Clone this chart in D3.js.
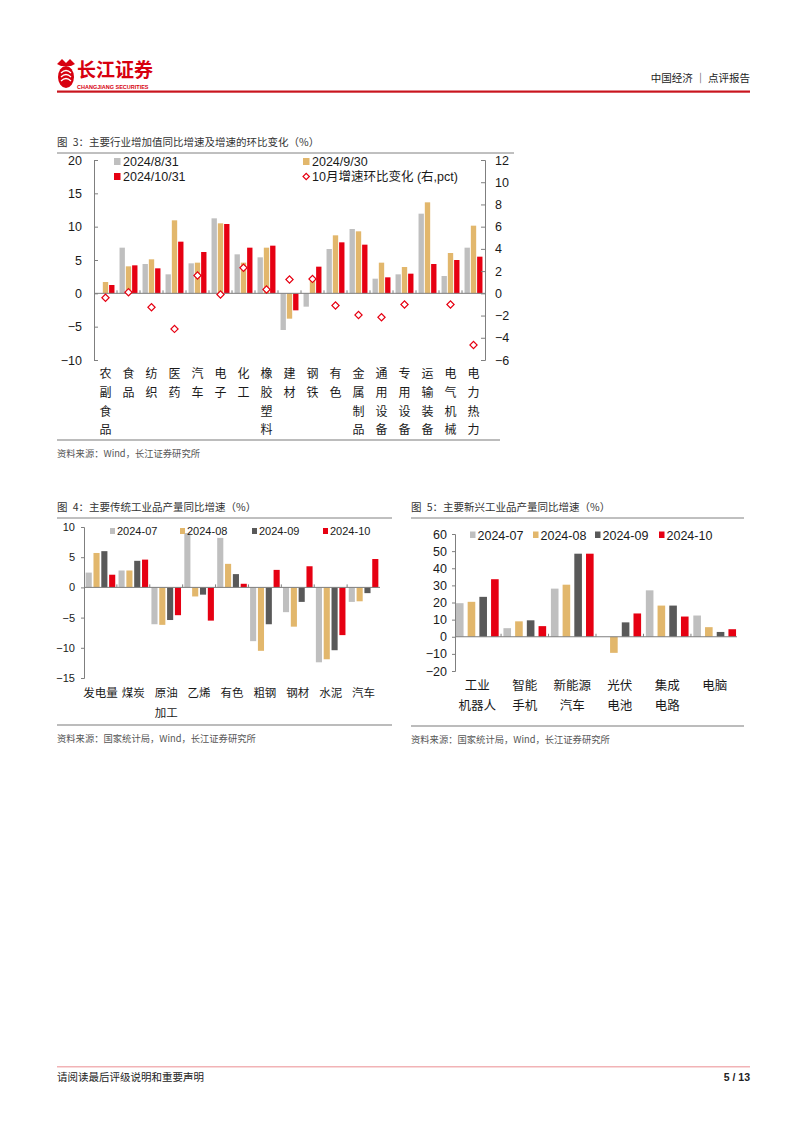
<!DOCTYPE html>
<html><head><meta charset="utf-8">
<script src="https://cdn.jsdelivr.net/npm/d3@7"></script>
<style>
html,body{margin:0;padding:0;background:#fff;}
svg{display:block;}
text{font-family:"Liberation Sans",Arial,"Noto Sans CJK SC",sans-serif;}
.cjk{font-family:"Noto Sans CJK SC","Liberation Sans",sans-serif;}
</style>
</head><body>
<script>
// ---------- DATA ----------
const cats3 = ["农副食品","食品","纺织","医药","汽车","电子","化工","橡胶塑料","建材","钢铁","有色","金属制品","通用设备","专用设备","运输装备","电气机械","电力热力"];
const ser3Names = ["2024/8/31","2024/9/30","2024/10/31"];
const aug31 = [null,6.85,4.4,2.85,4.5,11.25,5.85,5.4,-5.5,-2.0,6.65,9.65,2.2,2.85,11.95,2.6,6.85];
const sep30 = [1.7,4.05,5.1,10.95,4.6,10.5,4.6,6.85,-3.8,2.4,8.7,9.3,4.6,3.95,13.65,6.05,10.15];
const oct31 = [1.25,4.2,3.75,7.75,6.2,10.4,6.85,7.15,-2.55,4.0,7.65,7.3,2.4,2.95,4.4,5.0,5.5];
const momChg = [-0.4,0.1,-1.25,-3.2,1.6,-0.1,2.3,0.35,1.25,1.3,-1.1,-1.95,-2.15,-1.0,-9.25,-1.0,-4.65];
const momName = "10月增速环比变化 (右,pct)";
const ticks3L = [-10,-5,0,5,10,15,20];
const ticks3R = [-6,-4,-2,0,2,4,6,8,10,12];

const cats4 = ["发电量","煤炭","原油\n加工","乙烯","有色","粗钢","钢材","水泥","汽车"];
const monthNames = ["2024-07","2024-08","2024-09","2024-10"];
const jul4 = [2.45,2.8,-6.1,9.0,8.2,-8.9,-4.1,-12.4,-2.4];
const aug4 = [5.7,2.8,-6.2,-1.5,3.9,-10.5,-6.5,-11.9,-2.3];
const sep4 = [6.0,4.4,-5.4,-1.2,2.2,-6.1,-2.4,-10.4,-0.95];
const oct4 = [2.1,4.6,-4.6,-5.5,0.6,2.9,3.5,-7.9,4.7];
const ticks4 = [-15,-10,-5,0,5,10];

const cats5 = ["工业\n机器人","智能\n手机","新能源\n汽车","光伏\n电池","集成\n电路","电脑"];
const jul5 = [19.6,5.0,28.1,null,27.1,12.4];
const aug5 = [20.4,9.0,30.4,-9.4,18.2,5.6];
const sep5 = [23.3,9.6,48.5,8.4,18.2,2.8];
const oct5 = [33.6,6.2,48.5,13.6,11.8,4.4];
const ticks5 = [-20,-10,0,10,20,30,40,50,60];

// ---------- STYLE ----------
const C_GRAY="#BFBFBF", C_GOLD="#E2B76C", C_DARK="#595959", C_RED="#E60012";
const AXIS="#7F7F7F", TXT="#1a1a1a";

const svg = d3.select("body").append("svg").attr("width",802).attr("height",1133);
svg.append("rect").attr("width",802).attr("height",1133).attr("fill","#fff");

// ---------- HEADER ----------
const hdr = svg.append("g");
const lg = hdr.append("g").attr("transform","translate(66,74)");
lg.append("ellipse").attr("rx",8).attr("ry",11).attr("cy",3).attr("fill","#D7000F");
lg.append("path").attr("d","M-5,-1 Q0,-6 5,-1 M-5,3 Q0,-2 5,3 M-5,7 Q0,2 5,7").attr("stroke","#fff").attr("stroke-width",1.3).attr("fill","none");
lg.append("path").attr("d","M-9,-10 L-4,-15 L0,-11 L4,-15 L9,-10 L5,-8 L-5,-8 Z").attr("fill","#D7000F");
hdr.append("text").attr("class","cjk").attr("x",77).attr("y",77).attr("font-size",19).attr("font-weight","bold").attr("fill","#D7000F").text("长江证券");
hdr.append("text").attr("x",77).attr("y",89).attr("font-size",5.5).attr("font-weight","bold").attr("fill","#D7000F").text("CHANGJIANG SECURITIES");
hdr.append("text").attr("class","cjk").attr("x",750).attr("y",82).attr("text-anchor","end").attr("font-size",10.5).attr("fill","#222").text("中国经济 ｜ 点评报告");
hdr.append("rect").attr("x",57).attr("y",90.5).attr("width",693).attr("height",2.2).attr("fill","#C9151E");

// ---------- FOOTER ----------
svg.append("rect").attr("x",57).attr("y",1066).attr("width",693).attr("height",1.5).attr("fill","#F2B3B6");
svg.append("text").attr("class","cjk").attr("x",57).attr("y",1081).attr("font-size",10.5).attr("fill","#222").text("请阅读最后评级说明和重要声明");
svg.append("text").attr("x",750).attr("y",1081).attr("text-anchor","end").attr("font-size",10.5).attr("font-weight","bold").attr("fill","#222").text("5 / 13");

function titleBlock(x, y, x2, title){
  svg.append("text").attr("class","cjk").attr("x",x).attr("y",y).attr("font-size",10.5).attr("fill","#333").text(title);
  svg.append("line").attr("x1",x).attr("x2",x2).attr("y1",y+7).attr("y2",y+7).attr("stroke","#808080").attr("stroke-width",1);
}
function sourceBlock(x, y, x2, txt){
  svg.append("line").attr("x1",x).attr("x2",x2).attr("y1",y).attr("y2",y).attr("stroke","#A6A6A6").attr("stroke-width",1.5);
  svg.append("text").attr("class","cjk").attr("x",x).attr("y",y+17).attr("font-size",9.3).attr("fill","#555").text(txt);
}
function styleAxis(g){
  g.select(".domain").attr("stroke",AXIS);
  g.selectAll(".tick line").attr("stroke",AXIS);
  g.selectAll(".tick text").attr("fill",TXT);
}
function catTicks(g, x, y0, cats){
  cats.slice(1).forEach(c=>{
    const xx = x(c) - x.step()*x.paddingInner()/2;
    g.append("line").attr("x1",xx).attr("x2",xx).attr("y1",y0).attr("y2",y0-3).attr("stroke",AXIS);
  });
}

// ================= CHART 3 =================
titleBlock(57,146,514,"图\u20023：主要行业增加值同比增速及增速的环比变化（%）");
{
  const g = svg.append("g");
  const x = d3.scaleBand().domain(cats3).range([94,485]).paddingInner(0.22).paddingOuter(0.11);
  const yL = d3.scaleLinear().domain([-10,20]).range([360,160]);
  const yR = d3.scaleLinear().domain([-6,12]).range([360,160]);
  const series = [aug31, sep30, oct31];
  const colors = [C_GRAY, C_GOLD, C_RED];
  const xi = d3.scaleBand().domain(d3.range(3)).range([0,x.bandwidth()]).paddingInner(0.15);
  series.forEach((s,si)=>{
    g.append("g").selectAll("rect").data(cats3.map((c,i)=>({c,v:s[i]})).filter(d=>d.v!=null))
      .join("rect")
      .attr("x",d=>x(d.c)+xi(si)).attr("width",xi.bandwidth())
      .attr("y",d=>yL(Math.max(0,d.v))).attr("height",d=>Math.abs(yL(d.v)-yL(0)))
      .attr("fill",colors[si]);
  });
  const zl = g.append("g");
  zl.append("line").attr("x1",94).attr("x2",485).attr("y1",yL(0)).attr("y2",yL(0)).attr("stroke",AXIS);
  catTicks(zl, x, yL(0), cats3);
  const aL = g.append("g").attr("transform","translate(94,0)")
    .call(d3.axisLeft(yL).tickValues(ticks3L).tickSizeInner(-4).tickSizeOuter(-4).tickPadding(12));
  aL.selectAll("text").attr("font-size",12.5);
  styleAxis(aL);
  const aR = g.append("g").attr("transform","translate(485,0)")
    .call(d3.axisRight(yR).tickValues(ticks3R).tickSizeInner(-4).tickSizeOuter(-4).tickPadding(10));
  aR.selectAll("text").attr("font-size",12.5);
  styleAxis(aR);
  // diamonds, clipped to the right-axis range
  const dom = yR.domain();
  g.append("g").selectAll("path").data(cats3.map((c,i)=>({c,v:momChg[i]})).filter(d=>d.v>=dom[0]&&d.v<=dom[1]))
    .join("path")
    .attr("d",d3.symbol(d3.symbolSquare, 26))
    .attr("transform",d=>`translate(${x(d.c)+x.bandwidth()/2},${yR(d.v)}) rotate(45)`)
    .attr("fill","#fff").attr("stroke",C_RED).attr("stroke-width",1.2);
  cats3.forEach(c=>{
    const t = g.append("text").attr("class","cjk").attr("font-size",12).attr("fill",TXT).attr("text-anchor","middle");
    Array.from(c).forEach((ch,k)=>{
      t.append("tspan").attr("x",x(c)+x.bandwidth()/2).attr("y",378+k*18.8).text(ch);
    });
  });
  const leg = [
    {n:ser3Names[0],c:C_GRAY,x:114,y:161.5,t:"sq"},
    {n:ser3Names[1],c:C_GOLD,x:303,y:161.5,t:"sq"},
    {n:ser3Names[2],c:C_RED,x:114,y:176.5,t:"sq"},
    {n:momName,c:C_RED,x:303,y:176.5,t:"dm"}
  ];
  leg.forEach(l=>{
    if(l.t==="sq") g.append("rect").attr("x",l.x).attr("y",l.y-3.5).attr("width",6.5).attr("height",7).attr("fill",l.c);
    else g.append("path").attr("d",d3.symbol(d3.symbolSquare,20)).attr("transform",`translate(${l.x+3.2},${l.y}) rotate(45)`).attr("fill","#fff").attr("stroke",l.c).attr("stroke-width",1.2);
    g.append("text").attr("x",l.x+9).attr("y",l.y+4.5).attr("font-size",12.5).attr("fill",TXT).text(l.n);
  });
}
sourceBlock(57,440,500,"资料来源：Wind，长江证券研究所");

// ================= CHART 4 =================
titleBlock(57,511,392,"图\u20024：主要传统工业品产量同比增速（%）");
{
  const g = svg.append("g");
  const x = d3.scaleBand().domain(cats4).range([84,380]).paddingInner(0.1).paddingOuter(0.05);
  const y = d3.scaleLinear().domain([-15,10]).range([678,527]);
  const series = [jul4, aug4, sep4, oct4];
  const colors = [C_GRAY, C_GOLD, C_DARK, C_RED];
  const xi = d3.scaleBand().domain(d3.range(4)).range([0,x.bandwidth()]).paddingInner(0.22);
  series.forEach((s,si)=>{
    g.append("g").selectAll("rect").data(cats4.map((c,i)=>({c,v:s[i]})).filter(d=>d.v!=null))
      .join("rect")
      .attr("x",d=>x(d.c)+xi(si)).attr("width",xi.bandwidth())
      .attr("y",d=>y(Math.max(0,d.v))).attr("height",d=>Math.abs(y(d.v)-y(0)))
      .attr("fill",colors[si]);
  });
  const zl = g.append("g");
  zl.append("line").attr("x1",84).attr("x2",380).attr("y1",y(0)).attr("y2",y(0)).attr("stroke",AXIS);
  catTicks(zl, x, y(0), cats4);
  const a = g.append("g").attr("transform","translate(84,0)")
    .call(d3.axisLeft(y).tickValues(ticks4).tickSizeInner(3).tickSizeOuter(3).tickPadding(6));
  a.selectAll("text").attr("font-size",11);
  styleAxis(a);
  cats4.forEach(c=>{
    const t = g.append("text").attr("class","cjk").attr("font-size",11.5).attr("fill",TXT).attr("text-anchor","middle");
    c.split("\n").forEach((ln,k)=>{
      t.append("tspan").attr("x",x(c)+x.bandwidth()/2).attr("y",697+k*19.5).text(ln);
    });
  });
  const lx = [110,180,252,323];
  monthNames.forEach((n,i)=>{
    g.append("rect").attr("x",lx[i]).attr("y",528).attr("width",5).attr("height",6).attr("fill",colors[i]);
    g.append("text").attr("x",lx[i]+7).attr("y",535).attr("font-size",11).attr("fill",TXT).text(n);
  });
}
sourceBlock(57,725,392,"资料来源：国家统计局，Wind，长江证券研究所");

// ================= CHART 5 =================
titleBlock(411,511,744,"图\u20025：主要新兴工业品产量同比增速（%）");
{
  const g = svg.append("g");
  const x = d3.scaleBand().domain(cats5).range([455,737]).paddingInner(0.1).paddingOuter(0.02);
  const y = d3.scaleLinear().domain([-20,60]).range([671,534]);
  const series = [jul5, aug5, sep5, oct5];
  const colors = [C_GRAY, C_GOLD, C_DARK, C_RED];
  const xi = d3.scaleBand().domain(d3.range(4)).range([0,x.bandwidth()]).paddingInner(0.35);
  series.forEach((s,si)=>{
    g.append("g").selectAll("rect").data(cats5.map((c,i)=>({c,v:s[i]})).filter(d=>d.v!=null))
      .join("rect")
      .attr("x",d=>x(d.c)+xi(si)).attr("width",xi.bandwidth())
      .attr("y",d=>y(Math.max(0,d.v))).attr("height",d=>Math.abs(y(d.v)-y(0)))
      .attr("fill",colors[si]);
  });
  const zl = g.append("g");
  zl.append("line").attr("x1",455).attr("x2",737).attr("y1",y(0)).attr("y2",y(0)).attr("stroke",AXIS);
  catTicks(zl, x, y(0), cats5);
  const a = g.append("g").attr("transform","translate(455,0)")
    .call(d3.axisLeft(y).tickValues(ticks5).tickSizeInner(3).tickSizeOuter(3).tickPadding(5));
  a.selectAll("text").attr("font-size",12.5);
  styleAxis(a);
  cats5.forEach(c=>{
    const t = g.append("text").attr("class","cjk").attr("font-size",12.5).attr("fill",TXT).attr("text-anchor","middle");
    c.split("\n").forEach((ln,k)=>{
      t.append("tspan").attr("x",x(c)+x.bandwidth()/2).attr("y",690+k*19.5).text(ln);
    });
  });
  const lx = [470,533,595,659];
  monthNames.forEach((n,i)=>{
    g.append("rect").attr("x",lx[i]).attr("y",531.5).attr("width",5.5).attr("height",6.5).attr("fill",colors[i]);
    g.append("text").attr("x",lx[i]+7.5).attr("y",539.5).attr("font-size",12.5).attr("fill",TXT).text(n);
  });
}
sourceBlock(411,726,744,"资料来源：国家统计局，Wind，长江证券研究所");
</script>
</body></html>
